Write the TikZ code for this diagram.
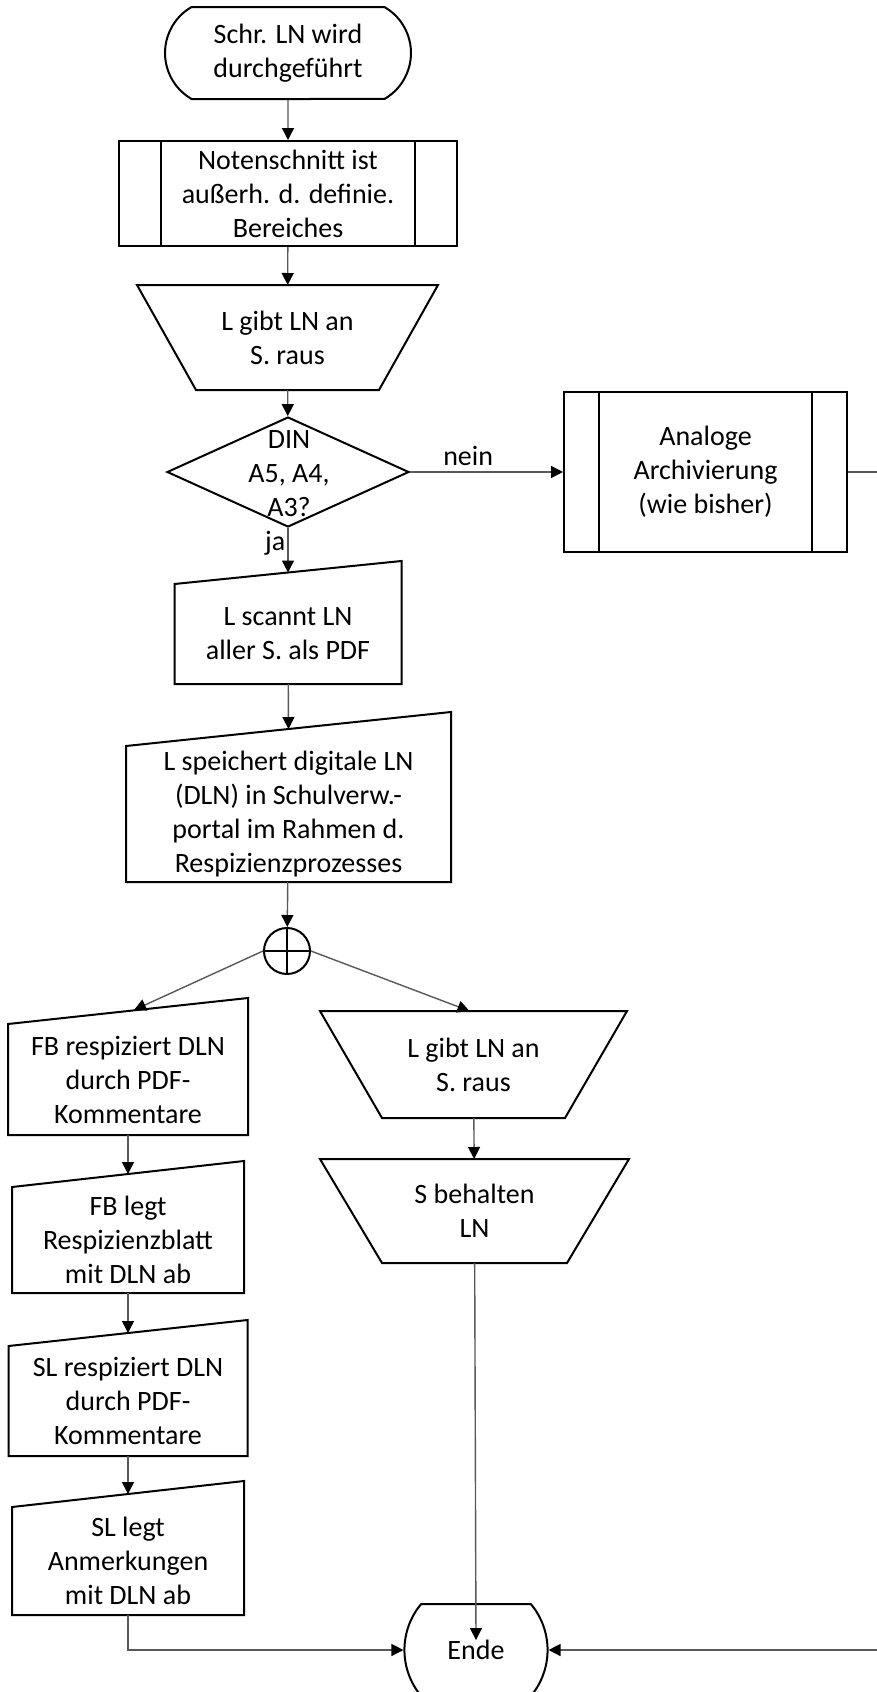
\documentclass[tikz,border=0pt]{standalone}
\usepackage{fontspec}
\setmainfont{Carlito}
\definecolor{linegray}{RGB}{89, 89, 89}
\usetikzlibrary{shapes.geometric, shapes.misc, arrows.meta, calc}
\tikzset{
  base/.style={draw=black, line width=1pt, align=center, inner sep=0pt, font=\fontsize{14pt}{17pt}\selectfont},
  term/.style={base, rounded rectangle},
  proc/.style={base, rectangle},
  manop/.style={base, rectangle, draw=none},
  decision/.style={base, diamond},
  manin/.style={base, rectangle, draw=none},
  junction/.style={base, circle, minimum size=23pt, path picture={
      \draw[line width=1pt] (path picture bounding box.north) -- (path picture bounding box.south)
        (path picture bounding box.west) -- (path picture bounding box.east);}},
  flow/.style={draw=linegray, line width=0.7pt, -{Triangle[length=6pt, width=6pt, color=black]}},
  lbl/.style={font=\fontsize{14pt}{17pt}\selectfont, inner sep=1pt}
}

\begin{document}
\begin{tikzpicture}[x=0.5pt, y=-0.5pt]
  \useasboundingbox[fill=white] (0,0) rectangle (877,1692);

  \node[term, minimum width=123pt, minimum height=46pt, rounded rectangle arc length=120] (start) at (288,53) {Schr. LN wird\\durchgeführt};
  \node[proc, minimum width=169pt, minimum height=52.5pt] (note) at (288,193.5) {Notenschnitt ist\\außerh. d. definie.\\Bereiches};
  \node[manop, minimum width=149.5pt, minimum height=51.5pt] (give) at (287.5,337.5) {L gibt LN an\\S. raus};
  \node[decision, minimum width=121pt, minimum height=55pt] (din) at (288,472) {};
  \node[base, draw=none] (dintxt) at (289,474) {DIN\\A5, A4,\\A3?};
  \node[proc, minimum width=141.5pt, minimum height=80pt] (arch) at (705.5,472) {Analoge\\Archivierung\\(wie bisher)};
  \node[manin, minimum width=112.5pt, minimum height=49pt] (scan) at (288,634) {L scannt LN\\aller S. als PDF};
  \node[manin, minimum width=161.5pt, minimum height=67pt] (store) at (288.5,814) {L speichert digitale LN\\(DLN) in Schulverw.-\\portal im Rahmen d.\\Respizienzprozesses};
  \node[junction] (sum) at (287,951) {};
  \node[manin, minimum width=119pt, minimum height=54.5pt] (fbresp) at (128,1079.5) {FB respiziert DLN\\durch PDF-\\Kommentare};
  \node[manin, minimum width=115pt, minimum height=52pt] (fblegt) at (128,1240) {FB legt\\Respizienzblatt\\mit DLN ab};
  \node[manin, minimum width=118.5pt, minimum height=54pt] (slresp) at (128,1401) {SL respiziert DLN\\durch PDF-\\Kommentare};
  \node[manin, minimum width=115pt, minimum height=53pt] (sllegt) at (128,1561) {SL legt\\Anmerkungen\\mit DLN ab};
  \node[manop, minimum width=152.5pt, minimum height=52.5pt] (giveb) at (473.5,1064.5) {L gibt LN an\\S. raus};
  \node[manop, minimum width=153.5pt, minimum height=51pt] (keep) at (474.5,1211) {S behalten\\LN};
  \node[term, minimum width=69.5pt, minimum height=46pt, rounded rectangle arc length=80] (ende) at (476,1650) {Ende};

  \foreach \n in {note, arch} {
    \draw[line width=1pt] ($(\n.north west)!0.127!(\n.north east)$) -- ($(\n.south west)!0.127!(\n.south east)$)
      ($(\n.north west)!0.873!(\n.north east)$) -- ($(\n.south west)!0.873!(\n.south east)$);
  }
  \foreach \n/\s in {scan/11.5pt, store/17pt, fbresp/13pt, fblegt/13pt, slresp/13pt, sllegt/13pt} {
    \draw[line width=1pt] (\n.south west) -- (\n.north west) -- ([yshift=\s]\n.north east) -- (\n.south east) -- cycle;
  }
  \foreach \n/\i in {give/29.5pt, giveb/31pt, keep/31pt} {
    \draw[line width=1pt] (\n.north west) -- (\n.north east) -- ([xshift=-\i]\n.south east) -- ([xshift=\i]\n.south west) -- cycle;
  }

  \draw[flow] (start) -- (note);
  \draw[flow] (note) -- (give);
  \draw[flow] (give) -- (din);
  \draw[flow] (din) -- node[lbl, pos=0.38, above=2pt] {nein} (arch);
  \draw[flow] (din.south) -- node[lbl, pos=0.35, left] {ja} ([yshift=5.75pt]scan.north);
  \draw[flow] (scan) -- ([yshift=8.5pt]store.north);
  \draw[flow] (store) -- (sum);
  \draw[flow] (sum.west) -- ([xshift=3pt, yshift=7pt]fbresp.north);
  \draw[flow] (sum.east) -- ([xshift=-2pt]giveb.north);
  \draw[flow] (fbresp) -- ([yshift=6.5pt]fblegt.north);
  \draw[flow] (fblegt) -- ([yshift=6.5pt]slresp.north);
  \draw[flow] (slresp) -- ([yshift=6.5pt]sllegt.north);
  \draw[flow] (giveb) -- (keep);
  \draw[flow] (keep) -- ([yshift=5pt]ende.center);
  \draw[flow] (sllegt) |- (ende.west);
  \draw[flow] (arch.east) -- ++(40,0) |- (ende.east);
\end{tikzpicture}
\end{document}
